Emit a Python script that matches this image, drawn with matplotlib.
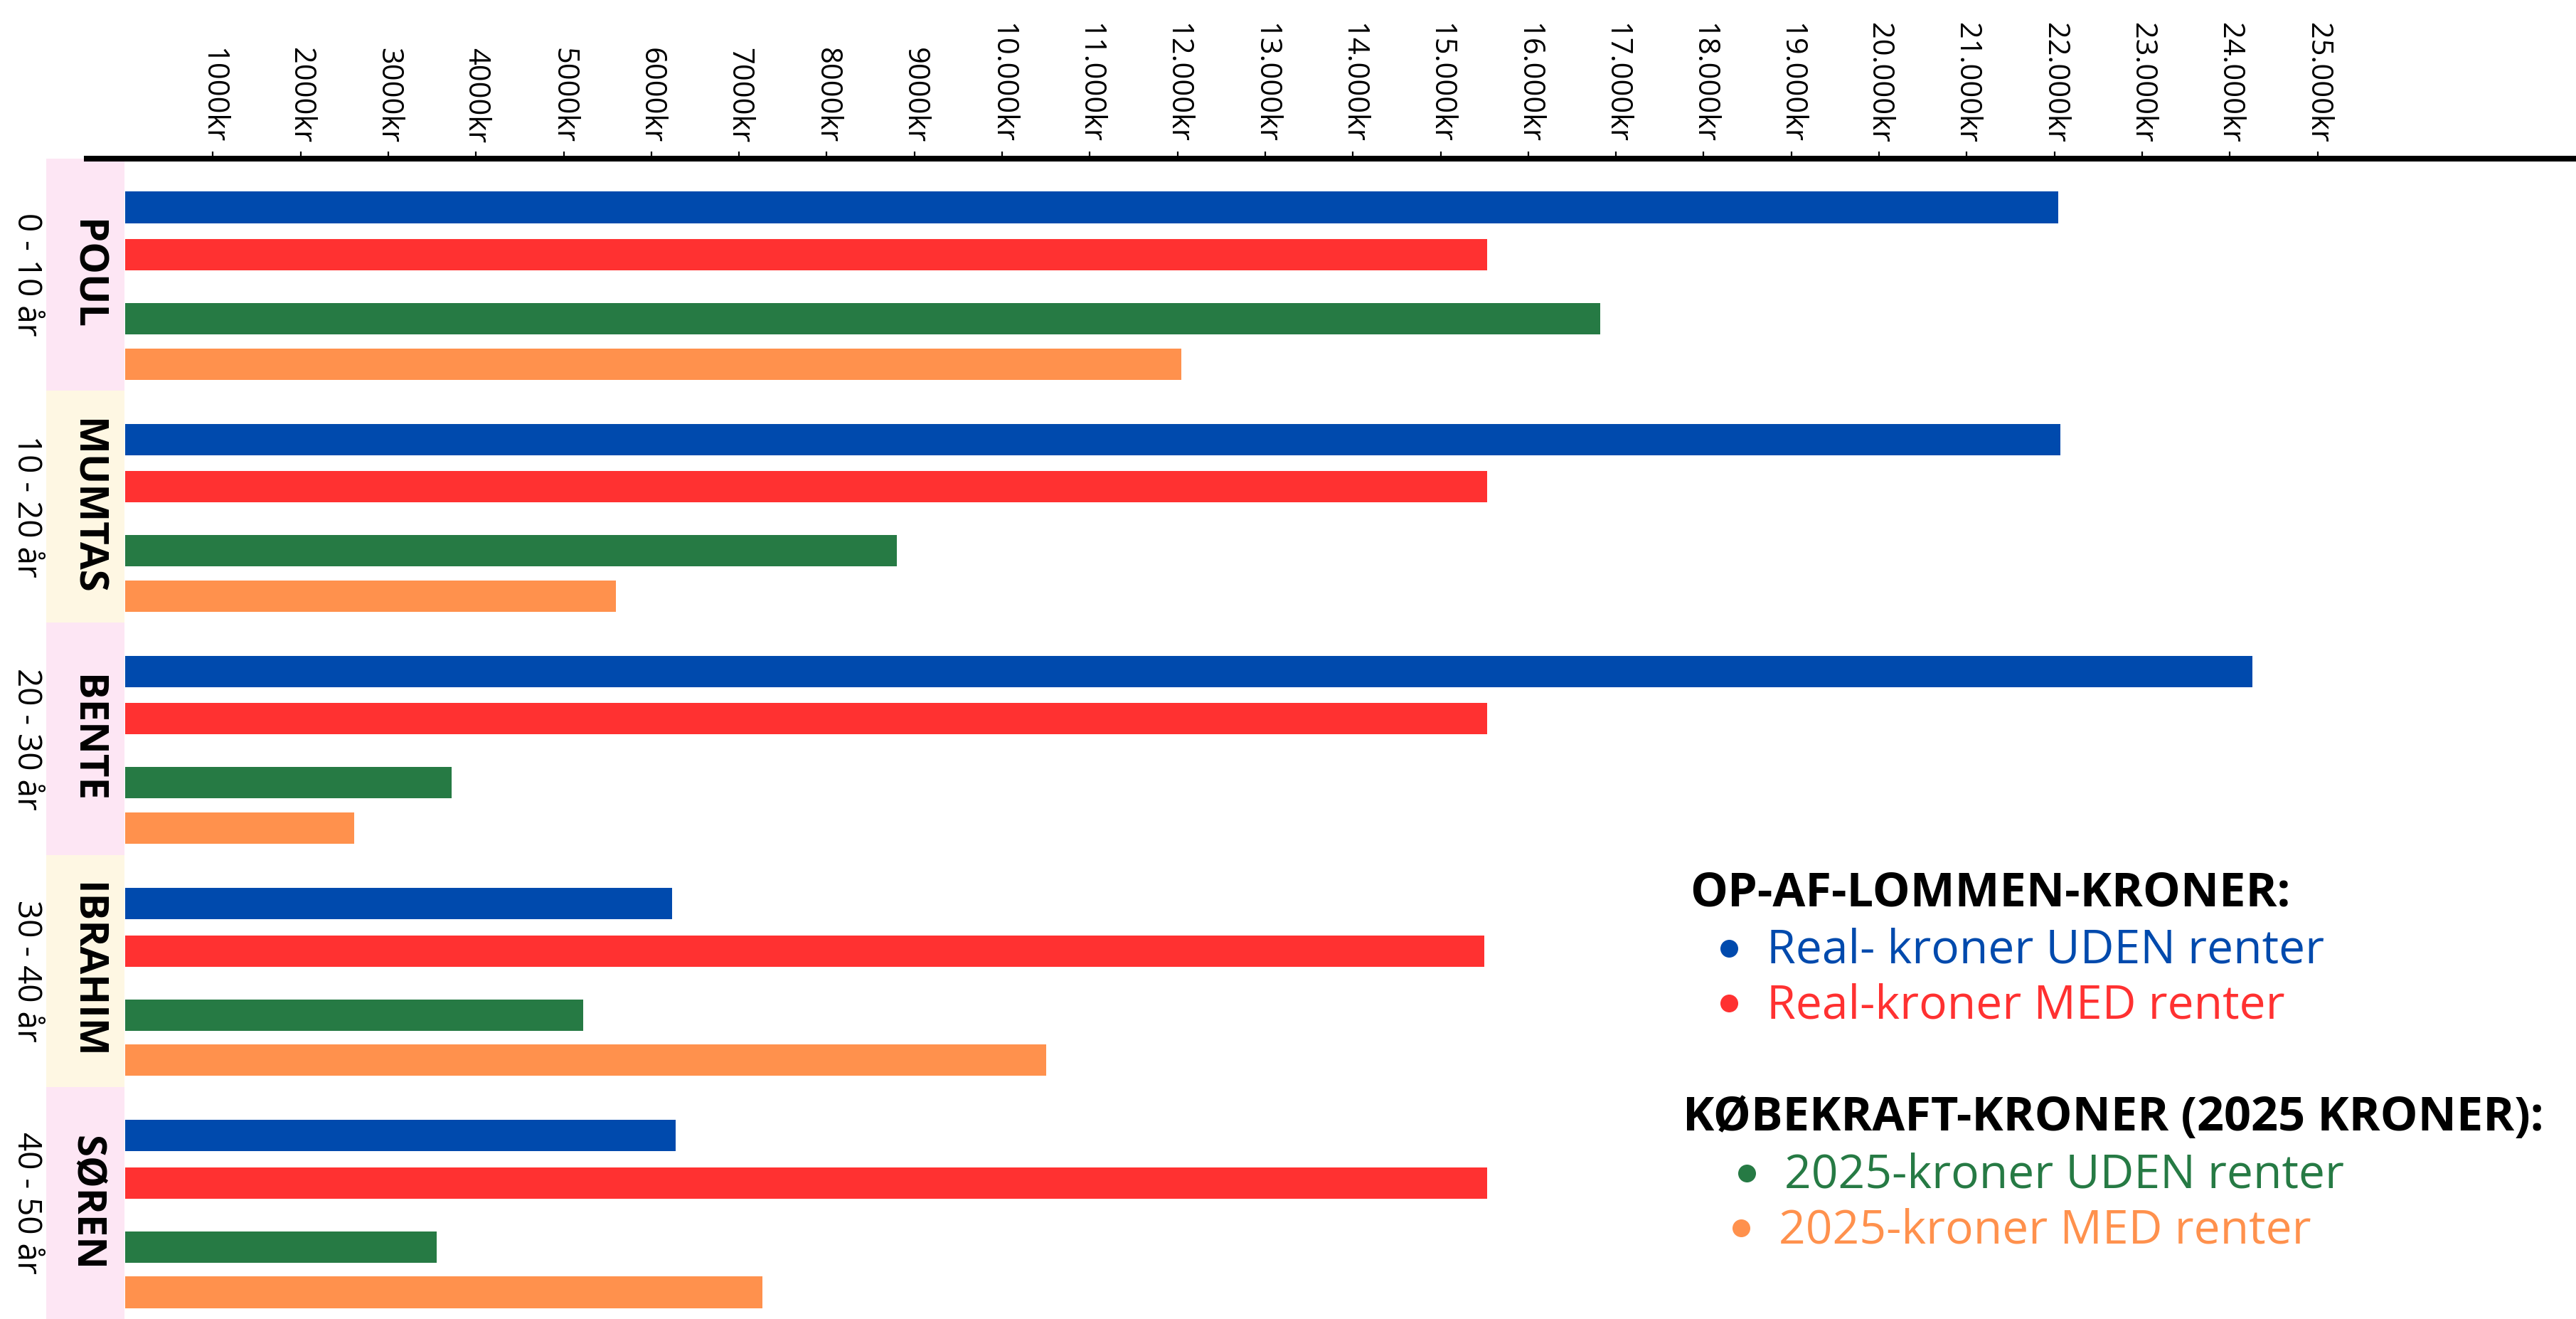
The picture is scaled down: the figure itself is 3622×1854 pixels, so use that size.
import matplotlib
matplotlib.use("Agg")
import matplotlib.pyplot as plt
from matplotlib import transforms
from matplotlib.patches import Rectangle
from matplotlib.lines import Line2D

plt.rcParams['font.family'] = ['Open Sans', 'DejaVu Sans']

# ---------------- data ----------------
names = ["POUL", "MUMTAS", "BENTE", "IBRAHIM", "SØREN"]
ages = ["0 - 10 år", "10 - 20 år", "20 - 30 år", "30 - 40 år", "40 - 50 år"]
real_uden = [22040, 22070, 24260, 6240, 6280]
real_med = [15530, 15535, 15535, 15500, 15535]
kr2025_uden = [16820, 8800, 3720, 5220, 3550]
kr2025_med = [12045, 5600, 2610, 10500, 7265]
tick_values = [1000, 2000, 3000, 4000, 5000, 6000, 7000, 8000, 9000, 10000,
               11000, 12000, 13000, 14000, 15000, 16000, 17000, 18000, 19000,
               20000, 21000, 22000, 23000, 24000, 25000]
tick_labels = ["1000kr", "2000kr", "3000kr", "4000kr", "5000kr", "6000kr",
               "7000kr", "8000kr", "9000kr", "10.000kr", "11.000kr",
               "12.000kr", "13.000kr", "14.000kr", "15.000kr", "16.000kr",
               "17.000kr", "18.000kr", "19.000kr", "20.000kr", "21.000kr",
               "22.000kr", "23.000kr", "24.000kr", "25.000kr"]
legend_title1 = "OP-AF-LOMMEN-KRONER:"
legend_title2 = "KØBEKRAFT-KRONER (2025 KRONER):"
series_labels = ["Real- kroner UDEN renter", "Real-kroner MED renter",
                 "2025-kroner UDEN renter", "2025-kroner MED renter"]

# ---------------- style ----------------
C_BLUE, C_RED, C_GREEN, C_ORANGE = "#004AAD", "#FF3131", "#267A44", "#FF914D"
BOX_COLORS = ["#FDE6F4", "#FEF7E3"]
W, H = 3622, 1854
fig = plt.figure(figsize=(W / 100, H / 100), dpi=100)
fig.patch.set_facecolor("white")

ax_left, ax_top = 122, 223
ax = fig.add_axes([ax_left / W, 0, 1 - ax_left / W, 1 - ax_top / H])
ax.set_xlim(-438, 27948)
ax.set_ylim(len(names), 0)

offsets = [0.21, 0.414, 0.69, 0.885]
bar_h = 0.135
series = [real_uden, real_med, kr2025_uden, kr2025_med]
colors = [C_BLUE, C_RED, C_GREEN, C_ORANGE]
for s, (vals, col) in enumerate(zip(series, colors)):
    ys = [i + offsets[s] for i in range(len(names))]
    ax.barh(ys, vals, height=bar_h, left=0, color=col, zorder=3)

# axis styling
for side in ["left", "right", "bottom"]:
    ax.spines[side].set_visible(False)
ax.spines["top"].set_linewidth(5.8)
ax.spines["top"].set_color("black")
ax.xaxis.tick_top()
ax.set_xticks(tick_values)
ax.set_xticklabels(tick_labels, rotation=270)
ax.tick_params(axis="x", direction="out", length=7, width=1.6, pad=9,
               labelsize=30, colors="black")
ax.set_yticks([])
ax.patch.set_alpha(0)

# group boxes and labels
blend = transforms.blended_transform_factory(fig.transFigure, ax.transData)
for i, (nm, ag) in enumerate(zip(names, ages)):
    ax.add_patch(Rectangle((65 / W, i), 110 / W, 1, transform=blend,
                           facecolor=BOX_COLORS[i % 2], edgecolor="none",
                           clip_on=False, zorder=1))
    ax.text(121 / W, i + 0.5, nm, transform=blend, rotation=270,
            ha="center", va="center", fontsize=40.5, fontweight="bold",
            color="black", clip_on=False, zorder=4)
    ax.text(37 / W, i + 0.5, ag, transform=blend, rotation=270,
            ha="center", va="center", fontsize=33, color="black",
            clip_on=False, zorder=4)

# legend (manual)
def fx(px):
    return px / W

def fy(py):
    return 1 - py / H

fig.text(fx(2376), fy(1256), legend_title1, fontsize=48, fontweight="bold",
         ha="left", va="center", color="black")
fig.text(fx(2366), fy(1572), legend_title2, fontsize=48, fontweight="bold",
         ha="left", va="center", color="black")
item_pos = [(2431, 2484, 1337), (2431, 2484, 1414),
            (2456, 2509, 1653), (2448, 2501, 1730)]
for (bx, tx, ty), lab, col in zip(item_pos, series_labels, colors):
    fig.add_artist(Line2D([fx(bx)], [fy(ty - 4)], marker="o", markersize=17,
                          color=col, linestyle="none",
                          transform=fig.transFigure))
    fig.text(fx(tx), fy(ty), lab, fontsize=47.5, ha="left", va="center",
             color=col)

fig.savefig("out.png", dpi=100, facecolor="white")
